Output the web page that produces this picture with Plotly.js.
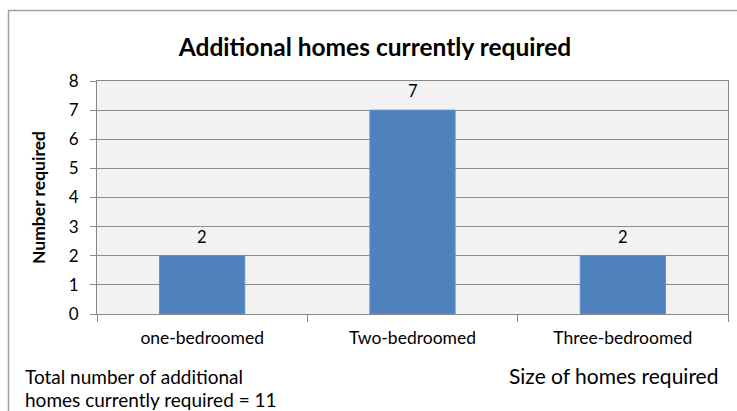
<!DOCTYPE html>
<html>
<head>
<meta charset="utf-8">
<script src="https://cdn.plot.ly/plotly-3.0.1.min.js"></script>
<style>html,body{margin:0;padding:0;background:#fff;}#chart{width:737px;height:411px;}</style>
</head>
<body>
<div id="chart"></div>
<script>
var categories = ["one-bedroomed", "Two-bedroomed", "Three-bedroomed"];
var homesRequired = [2, 7, 2];
var yTickValues = [0, 1, 2, 3, 4, 5, 6, 7, 8];
var chartTitle = "Additional homes currently required";
var yTitle = "Number required";
var xTitle = "Size of homes required";
var totalNoteLines = ["Total number of additional", "homes currently required = 11"];

var font = "Lato, 'Open Sans', sans-serif";
var trace = {
  type: "bar",
  x: categories,
  y: homesRequired,
  width: 0.405,
  marker: {color: "#4f81bd", line: {color: "#5b8fce", width: 1}},
  hoverinfo: "none"
};
var valueLabels = categories.map(function (c, i) {
  return {
    x: c, y: homesRequired[i], xref: "x", yref: "y",
    text: String(homesRequired[i]), showarrow: false,
    yanchor: "bottom", yshift: 7,
    font: {family: font, size: 16.5, color: "#000"}
  };
});
var noteY = [376, 399];
var noteLabels = totalNoteLines.map(function (t, i) {
  return {
    text: t, xref: "paper", yref: "paper",
    x: (23 - 97) / 631, y: (314 - noteY[i]) / 233, xanchor: "left", yanchor: "middle",
    showarrow: false, font: {family: font, size: 19, color: "#000"}
  };
});
var layout = {
  width: 737, height: 411,
  margin: {l: 97, r: 9, t: 81, b: 97, pad: 0},
  paper_bgcolor: "#fff",
  plot_bgcolor: "#f2f2f2",
  showlegend: false,
  title: {
    text: "<b>" + chartTitle + "</b>",
    font: {family: font, size: 24.5, color: "#000"},
    x: 375 / 737, xanchor: "center", xref: "container",
    y: 1 - 47/411, yanchor: "middle", yref: "container"
  },
  xaxis: {
    type: "category",
    tickson: "boundaries",
    ticks: "outside", ticklen: 7, tickcolor: "#888",
    ticklabelstandoff: 8,
    showline: true, linecolor: "#888", linewidth: 1, mirror: true,
    showgrid: false,
    tickfont: {family: font, size: 17.5, color: "#000"},
    fixedrange: true
  },
  yaxis: {
    range: [0, 8],
    tickvals: yTickValues,
    ticks: "outside", ticklen: 6, tickcolor: "#888",
    ticklabelstandoff: 8,
    showline: true, linecolor: "#888", linewidth: 1, mirror: true,
    showgrid: true, gridcolor: "#8c8c8c", gridwidth: 1,
    zeroline: false,
    tickfont: {family: font, size: 17, color: "#000"},
    title: {text: "<b>" + yTitle + "</b>", font: {family: font, size: 17.5, color: "#000"}, standoff: 18},
    fixedrange: true
  },
  shapes: [{
    type: "rect", xref: "paper", yref: "paper",
    x0: (8.5 - 97) / 631, x1: 1.2, y0: -0.6, y1: (314 - 10.5) / 233,
    line: {color: "#a0a0a0", width: 1.5}, fillcolor: "rgba(0,0,0,0)", layer: "below"
  }],
  annotations: valueLabels.concat(noteLabels).concat([
    {
      text: xTitle, xref: "paper", yref: "paper",
      x: (720 - 97) / 631, y: (314 - 375) / 233, xanchor: "right", yanchor: "middle",
      showarrow: false, font: {family: font, size: 21, color: "#000"}
    }
  ])
};
Plotly.newPlot("chart", [trace], layout, {displayModeBar: false, staticPlot: true});
</script>
</body>
</html>
